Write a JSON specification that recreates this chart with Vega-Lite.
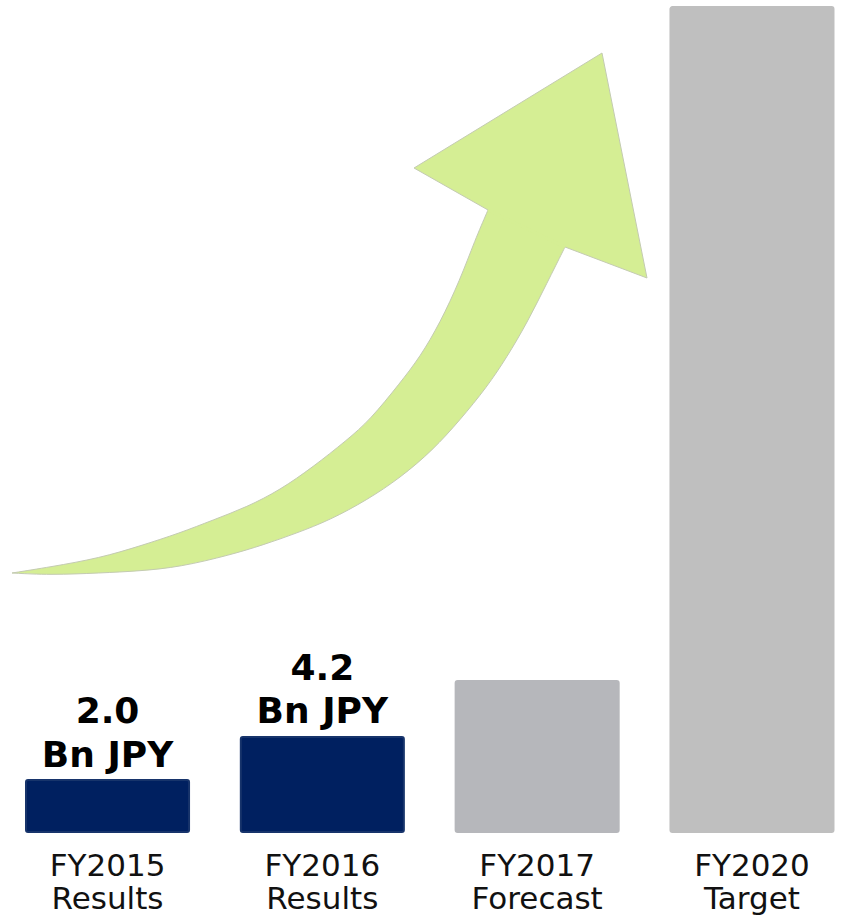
{
  "$schema": "https://vega.github.io/schema/vega-lite/v6.json",
  "width": 846,
  "height": 832,
  "autosize": {"type": "none"},
  "padding": {"left": 0, "top": 0, "right": 0, "bottom": 86},
  "background": "white",
  "config": {"view": {"stroke": null}, "font": "DejaVu Sans"},
  "datasets": {
    "bars": [
      {"period": "FY2015 Results", "status": "Results", "value": 2.0, "label": "2.0\nBn JPY"},
      {"period": "FY2016 Results", "status": "Results", "value": 4.2, "label": "4.2\nBn JPY"},
      {"period": "FY2017 Forecast", "status": "Forecast", "value": 7.06, "label": ""},
      {"period": "FY2020 Target", "status": "Target", "value": 41.54, "label": ""}
    ],
    "arrow": [
      {"part": "body", "i": 0, "ax": 12, "ay": 259},
      {"part": "body", "i": 1, "ax": 50, "ay": 265},
      {"part": "body", "i": 2, "ax": 100, "ay": 274},
      {"part": "body", "i": 3, "ax": 140, "ay": 286},
      {"part": "body", "i": 4, "ax": 180, "ay": 299},
      {"part": "body", "i": 5, "ax": 213, "ay": 312},
      {"part": "body", "i": 6, "ax": 247, "ay": 325},
      {"part": "body", "i": 7, "ax": 280, "ay": 342},
      {"part": "body", "i": 8, "ax": 313, "ay": 365},
      {"part": "body", "i": 9, "ax": 347, "ay": 392},
      {"part": "body", "i": 10, "ax": 370, "ay": 412},
      {"part": "body", "i": 11, "ax": 400, "ay": 449},
      {"part": "body", "i": 12, "ax": 420, "ay": 475},
      {"part": "body", "i": 13, "ax": 440, "ay": 509},
      {"part": "body", "i": 14, "ax": 460, "ay": 552},
      {"part": "body", "i": 15, "ax": 475, "ay": 592},
      {"part": "body", "i": 16, "ax": 488, "ay": 622},
      {"part": "body", "i": 17, "ax": 488, "ay": 622},
      {"part": "body", "i": 18, "ax": 488, "ay": 622},
      {"part": "body", "i": 19, "ax": 496, "ay": 640},
      {"part": "body", "i": 20, "ax": 575, "ay": 600},
      {"part": "body", "i": 21, "ax": 565, "ay": 585},
      {"part": "body", "i": 22, "ax": 565, "ay": 585},
      {"part": "body", "i": 23, "ax": 565, "ay": 585},
      {"part": "body", "i": 24, "ax": 547, "ay": 549},
      {"part": "body", "i": 25, "ax": 527, "ay": 509},
      {"part": "body", "i": 26, "ax": 507, "ay": 475},
      {"part": "body", "i": 27, "ax": 487, "ay": 445},
      {"part": "body", "i": 28, "ax": 460, "ay": 412},
      {"part": "body", "i": 29, "ax": 433, "ay": 382},
      {"part": "body", "i": 30, "ax": 400, "ay": 354},
      {"part": "body", "i": 31, "ax": 367, "ay": 332},
      {"part": "body", "i": 32, "ax": 330, "ay": 312},
      {"part": "body", "i": 33, "ax": 297, "ay": 299},
      {"part": "body", "i": 34, "ax": 263, "ay": 287},
      {"part": "body", "i": 35, "ax": 230, "ay": 277},
      {"part": "body", "i": 36, "ax": 180, "ay": 265},
      {"part": "body", "i": 37, "ax": 140, "ay": 261},
      {"part": "body", "i": 38, "ax": 100, "ay": 259},
      {"part": "body", "i": 39, "ax": 50, "ay": 257},
      {"part": "body", "i": 40, "ax": 12, "ay": 259},
      {"part": "head", "i": 0, "ax": 488, "ay": 622},
      {"part": "head", "i": 1, "ax": 414, "ay": 664},
      {"part": "head", "i": 2, "ax": 602, "ay": 779},
      {"part": "head", "i": 3, "ax": 647, "ay": 554},
      {"part": "head", "i": 4, "ax": 565, "ay": 585},
      {"part": "head", "i": 5, "ax": 488, "ay": 622}
    ]
  },
  "layer": [
    {
      "data": {"name": "arrow"},
      "transform": [{"filter": "datum.part == 'body'"}],
      "mark": {"type": "line", "fill": "#d5ee94", "stroke": "#c4cbb2", "strokeWidth": 1, "interpolate": "basis"},
      "encoding": {
        "x": {"field": "ax", "type": "quantitative", "scale": {"domain": [0, 846]}, "axis": null},
        "y": {"field": "ay", "type": "quantitative", "scale": {"domain": [0, 832]}, "axis": null},
        "order": {"field": "i", "type": "quantitative"}
      }
    },
    {
      "data": {"name": "arrow"},
      "transform": [{"filter": "datum.part == 'head'"}],
      "mark": {"type": "line", "fill": "#d5ee94", "stroke": "#c4cbb2", "strokeWidth": 1, "interpolate": "linear"},
      "encoding": {
        "x": {"field": "ax", "type": "quantitative", "scale": {"domain": [0, 846]}, "axis": null},
        "y": {"field": "ay", "type": "quantitative", "scale": {"domain": [0, 832]}, "axis": null},
        "order": {"field": "i", "type": "quantitative"}
      }
    },
    {
      "data": {"name": "arrow"},
      "transform": [{"filter": "datum.part == 'head' && datum.i != 1 && datum.i != 2 && datum.i != 3"}],
      "mark": {"type": "line", "stroke": "#d5ee94", "strokeWidth": 3, "interpolate": "linear"},
      "encoding": {
        "x": {"field": "ax", "type": "quantitative", "scale": {"domain": [0, 846]}, "axis": null},
        "y": {"field": "ay", "type": "quantitative", "scale": {"domain": [0, 832]}, "axis": null},
        "order": {"field": "i", "type": "quantitative"}
      }
    },
    {
      "data": {"name": "bars"},
      "encoding": {
        "x": {
          "field": "period",
          "type": "nominal",
          "sort": null,
          "scale": {"type": "band", "range": [26, 833.5], "paddingInner": 0.241, "paddingOuter": 0},
          "axis": {
            "title": null,
            "ticks": false,
            "domain": false,
            "labelAngle": 0,
            "labelFont": "DejaVu Sans",
            "labelFontSize": 31,
            "labelColor": "#111111",
            "labelPadding": 43,
            "labelBaseline": "alphabetic",
            "labelLineHeight": 33,
            "labelOverlap": false,
            "labelLimit": 0,
            "labelExpr": "split(datum.label, ' ')"
          }
        },
        "y": {"field": "value", "type": "quantitative", "scale": {"domain": [-0.66, 41.9], "zero": false, "nice": false}, "axis": null}
      },
      "layer": [
        {
          "mark": {"type": "bar", "strokeWidth": 2, "cornerRadius": 2},
          "encoding": {
            "y2": {"datum": -0.66},
            "color": {"field": "status", "type": "nominal", "scale": {"domain": ["Results", "Forecast", "Target"], "range": ["#002060", "#b6b7bb", "#bfbfbf"]}, "legend": null},
            "stroke": {"field": "status", "type": "nominal", "scale": {"domain": ["Results", "Forecast", "Target"], "range": ["#17346b", "#b6b7bb", "#bfbfbf"]}, "legend": null}
          }
        },
        {
          "transform": [{"filter": "datum.label != ''"}],
          "mark": {"type": "text", "font": "DejaVu Sans", "fontWeight": "bold", "fontSize": 36, "baseline": "alphabetic", "align": "center", "lineBreak": "\n", "lineHeight": 43.5, "dy": -57, "color": "#000000"},
          "encoding": {"text": {"field": "label"}}
        }
      ]
    }
  ],
  "resolve": {"scale": {"x": "independent", "y": "independent", "color": "independent", "stroke": "independent"}}
}
